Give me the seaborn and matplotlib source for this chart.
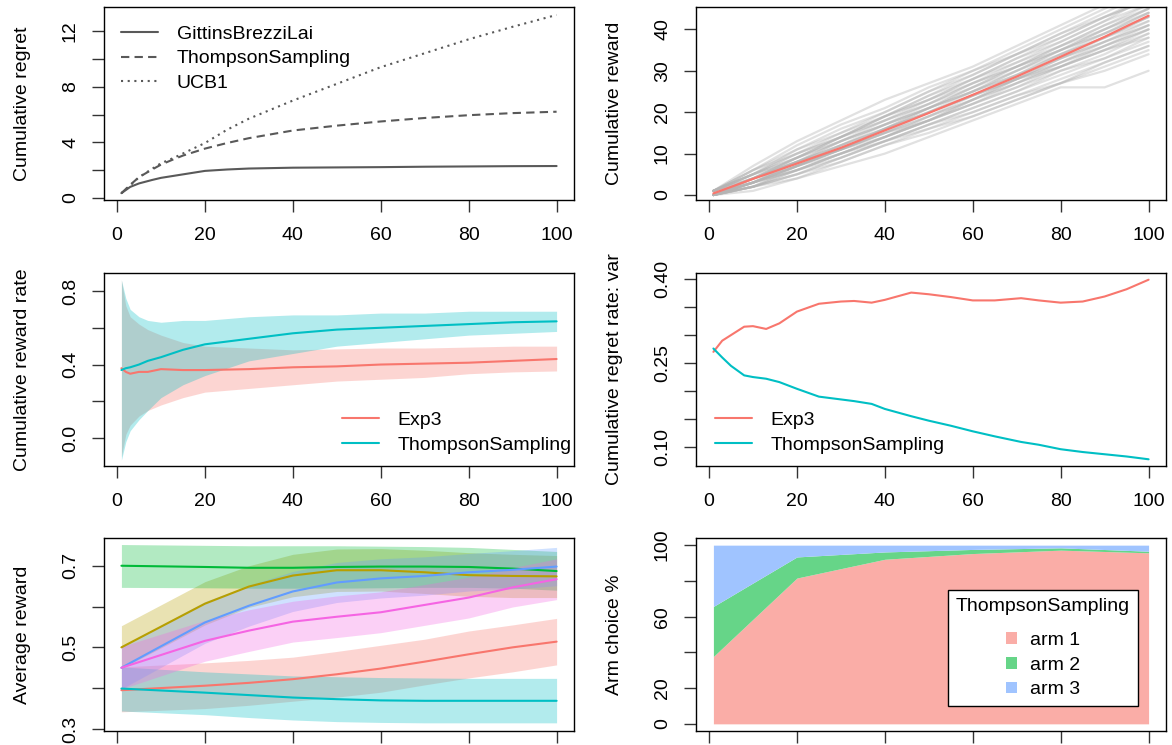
import matplotlib
matplotlib.use("Agg")
import matplotlib.pyplot as plt
from matplotlib.lines import Line2D
from matplotlib.patches import Patch
import pandas as pd
import seaborn as sns

# ---------------- data ----------------
# top left: cumulative regret per policy
t_regret = [1, 3, 5, 8, 10, 13, 15, 18, 20, 25, 30, 40, 50, 60, 70, 80, 90, 100]
regret_gittins = [0.35, 0.8, 1.05, 1.3, 1.45, 1.6, 1.7, 1.85, 1.95, 2.05, 2.12, 2.18, 2.2, 2.22, 2.25, 2.27, 2.29, 2.3]
regret_ts = [0.35, 0.95, 1.5, 2.05, 2.4, 2.8, 3.05, 3.35, 3.55, 3.95, 4.3, 4.85, 5.2, 5.5, 5.75, 5.95, 6.1, 6.2]
regret_ucb = [0.35, 0.9, 1.5, 2.1, 2.5, 2.9, 3.2, 3.65, 3.95, 4.9, 5.7, 7.0, 8.2, 9.4, 10.4, 11.4, 12.3, 13.15]

# top right: cumulative reward of single simulations (checkpoints) and their mean
t_sims = [1, 10, 20, 30, 40, 50, 60, 70, 80, 90, 100]
sim_rewards = [
    [0, 3, 7, 11, 15, 19, 23, 28, 33, 37, 42],
    [1, 5, 9, 13, 18, 22, 27, 31, 36, 41, 46],
    [0, 2, 5, 9, 13, 17, 21, 25, 29, 33, 37],
    [1, 6, 11, 15, 20, 25, 30, 35, 40, 45, 50],
    [0, 4, 8, 12, 16, 20, 24, 29, 34, 39, 44],
    [0, 3, 6, 10, 14, 18, 22, 26, 31, 35, 40],
    [1, 4, 9, 14, 18, 23, 28, 33, 38, 43, 48],
    [0, 2, 4, 7, 10, 14, 18, 22, 26, 26, 30],
    [1, 5, 10, 14, 19, 23, 27, 32, 36, 40, 45],
    [0, 3, 7, 12, 16, 21, 25, 30, 34, 38, 43],
    [0, 1, 4, 8, 12, 15, 19, 23, 27, 31, 35],
    [1, 6, 12, 17, 21, 26, 30, 34, 39, 44, 49],
    [0, 3, 8, 11, 15, 20, 24, 28, 32, 37, 41],
    [0, 4, 7, 11, 15, 18, 23, 27, 32, 36, 41],
    [1, 5, 9, 14, 19, 24, 29, 34, 39, 43, 47],
    [0, 2, 6, 10, 13, 17, 20, 24, 28, 32, 36],
    [1, 4, 8, 13, 17, 22, 26, 31, 35, 40, 44],
    [0, 3, 6, 9, 13, 17, 21, 25, 30, 34, 39],
    [1, 7, 13, 18, 23, 27, 31, 36, 41, 46, 51],
    [0, 3, 7, 11, 16, 20, 25, 29, 34, 38, 42],
    [0, 2, 5, 8, 12, 16, 20, 24, 27, 30, 34],
    [1, 5, 10, 15, 19, 24, 28, 32, 37, 42, 46],
    [0, 4, 8, 11, 15, 19, 24, 28, 33, 38, 43],
    [0, 3, 6, 10, 14, 19, 23, 27, 31, 35, 39],
    [1, 5, 11, 16, 20, 25, 29, 34, 38, 43, 47],
    [0, 2, 6, 10, 14, 18, 22, 27, 31, 36, 40],
    [0, 4, 9, 13, 17, 21, 26, 30, 35, 40, 45],
    [0, 3, 7, 10, 14, 18, 22, 26, 30, 33, 38],
    [1, 6, 10, 14, 19, 23, 28, 33, 37, 42, 48],
    [0, 2, 5, 9, 13, 16, 19, 23, 27, 32, 36],
    [1, 4, 8, 12, 17, 21, 25, 29, 33, 37, 41],
    [0, 3, 8, 13, 17, 21, 25, 30, 35, 39, 44],
    [0, 2, 7, 11, 14, 18, 23, 28, 32, 36, 40],
    [1, 5, 8, 12, 16, 20, 24, 28, 31, 35, 38],
    [0, 4, 9, 14, 18, 22, 27, 31, 36, 41, 45],
    [1, 3, 7, 11, 16, 21, 26, 31, 35, 39, 43],
]
t_mean = [1, 10, 20, 30, 40, 50, 60, 70, 80, 90, 100]
reward_mean = [0.4, 3.9, 7.6, 11.4, 15.6, 19.8, 24.2, 28.6, 33.4, 38.2, 43.3]

# middle left: cumulative reward rate with bands
t_rate = [1, 2, 3, 5, 7, 10, 15, 20, 30, 40, 50, 60, 70, 80, 90, 100]
exp3_rate = [0.38, 0.36, 0.35, 0.36, 0.36, 0.375, 0.37, 0.37, 0.375, 0.385, 0.39, 0.40, 0.405, 0.41, 0.42, 0.43]
exp3_rate_lo = [-0.10, 0.02, 0.07, 0.12, 0.15, 0.18, 0.22, 0.25, 0.27, 0.29, 0.31, 0.32, 0.33, 0.35, 0.36, 0.365]
exp3_rate_hi = [0.86, 0.72, 0.66, 0.62, 0.59, 0.56, 0.52, 0.50, 0.49, 0.48, 0.485, 0.49, 0.49, 0.495, 0.50, 0.50]
ts_rate = [0.37, 0.38, 0.385, 0.40, 0.42, 0.44, 0.48, 0.51, 0.54, 0.57, 0.59, 0.60, 0.61, 0.62, 0.63, 0.635]
ts_rate_lo = [-0.12, -0.02, 0.04, 0.10, 0.15, 0.22, 0.29, 0.34, 0.42, 0.46, 0.50, 0.52, 0.54, 0.56, 0.57, 0.58]
ts_rate_hi = [0.86, 0.76, 0.70, 0.66, 0.64, 0.63, 0.64, 0.64, 0.66, 0.67, 0.67, 0.68, 0.68, 0.69, 0.69, 0.69]

# middle right: variance of cumulative regret rate
t_var = [1, 3, 5, 8, 10, 13, 16, 20, 25, 30, 33, 37, 40, 46, 50, 55, 60, 65, 71, 75, 80, 85, 90, 95, 100]
exp3_var = [0.27, 0.29, 0.30, 0.315, 0.316, 0.311, 0.321, 0.342, 0.356, 0.36, 0.361, 0.358, 0.363, 0.376,
            0.373, 0.368, 0.362, 0.362, 0.366, 0.362, 0.358, 0.36, 0.369, 0.382, 0.399]
ts_var = [0.276, 0.26, 0.245, 0.228, 0.225, 0.222, 0.216, 0.204, 0.19, 0.185, 0.182, 0.177, 0.168, 0.155,
          0.147, 0.138, 0.128, 0.119, 0.109, 0.104, 0.096, 0.091, 0.087, 0.083, 0.078]

# bottom left: average reward per arm with bands
t_arm = [1, 20, 30, 40, 50, 60, 70, 80, 90, 100]
arm_names = ["arm 1", "arm 2", "arm 3", "arm 4", "arm 5", "arm 6"]
arm_mean = [
    [0.395, 0.406, 0.413, 0.422, 0.434, 0.448, 0.465, 0.483, 0.500, 0.514],
    [0.500, 0.607, 0.649, 0.676, 0.689, 0.689, 0.684, 0.677, 0.675, 0.674],
    [0.700, 0.697, 0.695, 0.695, 0.697, 0.698, 0.698, 0.697, 0.693, 0.687],
    [0.399, 0.389, 0.383, 0.377, 0.373, 0.370, 0.369, 0.369, 0.369, 0.369],
    [0.450, 0.561, 0.602, 0.637, 0.659, 0.669, 0.675, 0.684, 0.690, 0.698],
    [0.450, 0.516, 0.541, 0.563, 0.575, 0.586, 0.604, 0.622, 0.647, 0.667],
]
arm_lo = [
    [0.342, 0.350, 0.358, 0.368, 0.378, 0.390, 0.408, 0.425, 0.440, 0.457],
    [0.448, 0.555, 0.598, 0.624, 0.637, 0.638, 0.632, 0.625, 0.622, 0.622],
    [0.647, 0.646, 0.645, 0.645, 0.645, 0.646, 0.647, 0.647, 0.645, 0.640],
    [0.344, 0.335, 0.328, 0.322, 0.318, 0.316, 0.315, 0.315, 0.315, 0.315],
    [0.398, 0.510, 0.552, 0.588, 0.610, 0.621, 0.628, 0.638, 0.643, 0.651],
    [0.398, 0.466, 0.490, 0.513, 0.524, 0.536, 0.554, 0.572, 0.599, 0.617],
]
arm_hi = [
    [0.452, 0.462, 0.468, 0.476, 0.490, 0.505, 0.520, 0.540, 0.555, 0.571],
    [0.553, 0.661, 0.700, 0.728, 0.741, 0.742, 0.738, 0.732, 0.728, 0.725],
    [0.752, 0.750, 0.749, 0.749, 0.749, 0.748, 0.747, 0.745, 0.740, 0.735],
    [0.452, 0.440, 0.435, 0.430, 0.428, 0.426, 0.425, 0.424, 0.424, 0.424],
    [0.502, 0.612, 0.652, 0.686, 0.708, 0.717, 0.722, 0.730, 0.737, 0.745],
    [0.502, 0.566, 0.592, 0.613, 0.626, 0.636, 0.654, 0.672, 0.695, 0.717],
]

# bottom right: arm choice % for ThompsonSampling
t_choice = [1, 20, 40, 60, 80, 100]
choice_arm1 = [37.7, 81.6, 92.1, 95.3, 97.2, 95.7]
choice_arm2 = [28.0, 11.8, 4.1, 2.3, 1.3, 0.9]
choice_arm3 = [34.3, 6.6, 3.8, 2.4, 1.5, 3.4]

# ---------------- style ----------------
RED, TEAL = "#F8766D", "#00BFC4"
arm_colors = ["#F8766D", "#B79F00", "#00BA38", "#00BFC4", "#619CFF", "#F564E3"]
choice_colors = ["#FAADA7", "#66D588", "#A0C4FF"]
GREY = "#595959"

sns.set_style("white")
plt.rcParams["font.family"] = ["Liberation Sans", "DejaVu Sans"]
plt.rcParams["font.size"] = 14
plt.rcParams["text.color"] = "black"
plt.rcParams["axes.labelcolor"] = "black"

W, H = 1172, 745
fig = plt.figure(figsize=(W / 100, H / 100), dpi=100)


def panel(x0, y0, x1, y1):
    return fig.add_axes([x0 / W, 1 - y1 / H, (x1 - x0) / W, (y1 - y0) / H])


def r_axes(ax, ylim, yticks, ylabels, ylab, xlabels=True):
    ax.set_xlim(-2.96, 103.96)
    ax.set_ylim(*ylim)
    ax.set_xticks(range(0, 101, 20))
    ax.set_yticks(yticks)
    ax.set_yticklabels(ylabels, rotation=90, va="center")
    ax.tick_params(direction="out", length=8.6, width=1, color="#333333",
                   labelsize=14, labelcolor="black", bottom=True, left=True)
    ax.tick_params(axis="x", pad=11, labelbottom=xlabels)
    ax.tick_params(axis="y", pad=9.4)
    for s in ax.spines.values():
        s.set_visible(True)
        s.set_color("black")
        s.set_linewidth(1)
    ax.set_xlabel("")
    ax.set_ylabel(ylab, fontsize=14, color="black")
    ax.yaxis.set_label_coords(-0.1553, 0.5)


def line_legend(ax, handles, labels, anchor):
    return ax.legend(handles, labels, loc="upper left", bbox_to_anchor=anchor, frameon=False,
                     borderpad=0, borderaxespad=0, handlelength=1.9, handletextpad=0.98,
                     labelspacing=0.35, fontsize=14)


LX0, LX1, RX0, RX1 = 104, 574, 696, 1166
ROWS = [(7, 200), (273, 466), (538, 731)]

# ---- top left ----
ax = panel(LX0, ROWS[0][0], LX1, ROWS[0][1])
sns.lineplot(x=t_regret, y=regret_gittins, ax=ax, color=GREY, lw=1.5)
sns.lineplot(x=t_regret, y=regret_ts, ax=ax, color=GREY, lw=1.5, linestyle=(0, (4, 2.5)))
sns.lineplot(x=t_regret, y=regret_ucb, ax=ax, color=GREY, lw=1.5, linestyle=(0, (1, 2.2)))
r_axes(ax, (-0.14, 13.72), [0, 2, 4, 6, 8, 10, 12], ["0", "", "4", "", "8", "", "12"], "Cumulative regret")
h = [Line2D([], [], color=GREY, lw=1.5),
     Line2D([], [], color=GREY, lw=1.5, linestyle=(0, (4, 2.5))),
     Line2D([], [], color=GREY, lw=1.5, linestyle=(0, (1, 2.2)))]
line_legend(ax, h, ["GittinsBrezziLai", "ThompsonSampling", "UCB1"], (0.036, 0.905))

# ---- top right ----
ax = panel(RX0, ROWS[0][0], RX1, ROWS[0][1])
sims = pd.DataFrame([(i, t, v) for i, tr in enumerate(sim_rewards) for t, v in zip(t_sims, tr)],
                    columns=["sim", "t", "reward"])
sns.lineplot(data=sims, x="t", y="reward", units="sim", estimator=None, ax=ax,
             color="#B4B4B4", alpha=0.4, lw=1.6)
sns.lineplot(x=t_mean, y=reward_mean, ax=ax, color=RED, lw=1.6)
r_axes(ax, (-1.2, 45.4), [0, 10, 20, 30, 40], ["0", "10", "20", "30", "40"], "Cumulative reward")

# ---- middle left ----
ax = panel(LX0, ROWS[1][0], LX1, ROWS[1][1])
ax.fill_between(t_rate, exp3_rate_lo, exp3_rate_hi, color=RED, alpha=0.3, lw=0)
ax.fill_between(t_rate, ts_rate_lo, ts_rate_hi, color=TEAL, alpha=0.3, lw=0)
sns.lineplot(x=t_rate, y=exp3_rate, ax=ax, color=RED, lw=1.5)
sns.lineplot(x=t_rate, y=ts_rate, ax=ax, color=TEAL, lw=1.5)
r_axes(ax, (-0.152, 0.898), [0, 0.2, 0.4, 0.6, 0.8], ["0.0", "", "0.4", "", "0.8"], "Cumulative reward rate")
h = [Line2D([], [], color=RED, lw=1.5), Line2D([], [], color=TEAL, lw=1.5)]
line_legend(ax, h, ["Exp3", "ThompsonSampling"], (0.506, 0.282))

# ---- middle right ----
ax = panel(RX0, ROWS[1][0], RX1, ROWS[1][1])
sns.lineplot(x=t_var, y=exp3_var, ax=ax, color=RED, lw=1.5)
sns.lineplot(x=t_var, y=ts_var, ax=ax, color=TEAL, lw=1.5)
r_axes(ax, (0.066, 0.411), [0.10, 0.15, 0.20, 0.25, 0.30, 0.35, 0.40],
       ["0.10", "", "", "0.25", "", "", "0.40"], "Cumulative regret rate: var")
line_legend(ax, h, ["Exp3", "ThompsonSampling"], (0.04, 0.282))

# ---- bottom left ----
ax = panel(LX0, ROWS[2][0], LX1, ROWS[2][1])
for lo, hi, c in zip(arm_lo, arm_hi, arm_colors):
    ax.fill_between(t_arm, lo, hi, color=c, alpha=0.3, lw=0)
arms = pd.DataFrame([(n, t, v) for n, m in zip(arm_names, arm_mean) for t, v in zip(t_arm, m)],
                    columns=["arm", "t", "reward"])
sns.lineplot(data=arms, x="t", y="reward", hue="arm", palette=arm_colors, ax=ax, lw=1.5, legend=False)
r_axes(ax, (0.295, 0.768), [0.3, 0.4, 0.5, 0.6, 0.7], ["0.3", "", "0.5", "", "0.7"], "Average reward",
       xlabels=False)

# ---- bottom right ----
ax = panel(RX0, ROWS[2][0], RX1, ROWS[2][1])
ax.stackplot(t_choice, choice_arm1, choice_arm2, choice_arm3, colors=choice_colors, lw=0)
r_axes(ax, (-4, 104), [0, 20, 40, 60, 80, 100], ["0", "20", "", "60", "", "100"], "Arm choice %",
       xlabels=False)
h = [Patch(facecolor=c, edgecolor="none") for c in choice_colors]
leg = ax.legend(h, ["arm 1", "arm 2", "arm 3"], title="ThompsonSampling", loc="upper left",
                bbox_to_anchor=(0.536, 0.731), borderaxespad=0, borderpad=0.42,
                handlelength=0.55, handleheight=0.55, handletextpad=0.67, labelspacing=0.4,
                fontsize=14, title_fontsize=14, fancybox=False, framealpha=1, edgecolor="black")
leg.get_frame().set_linewidth(1)
leg._legend_box.sep = 12

fig.savefig("out.png", dpi=100)
